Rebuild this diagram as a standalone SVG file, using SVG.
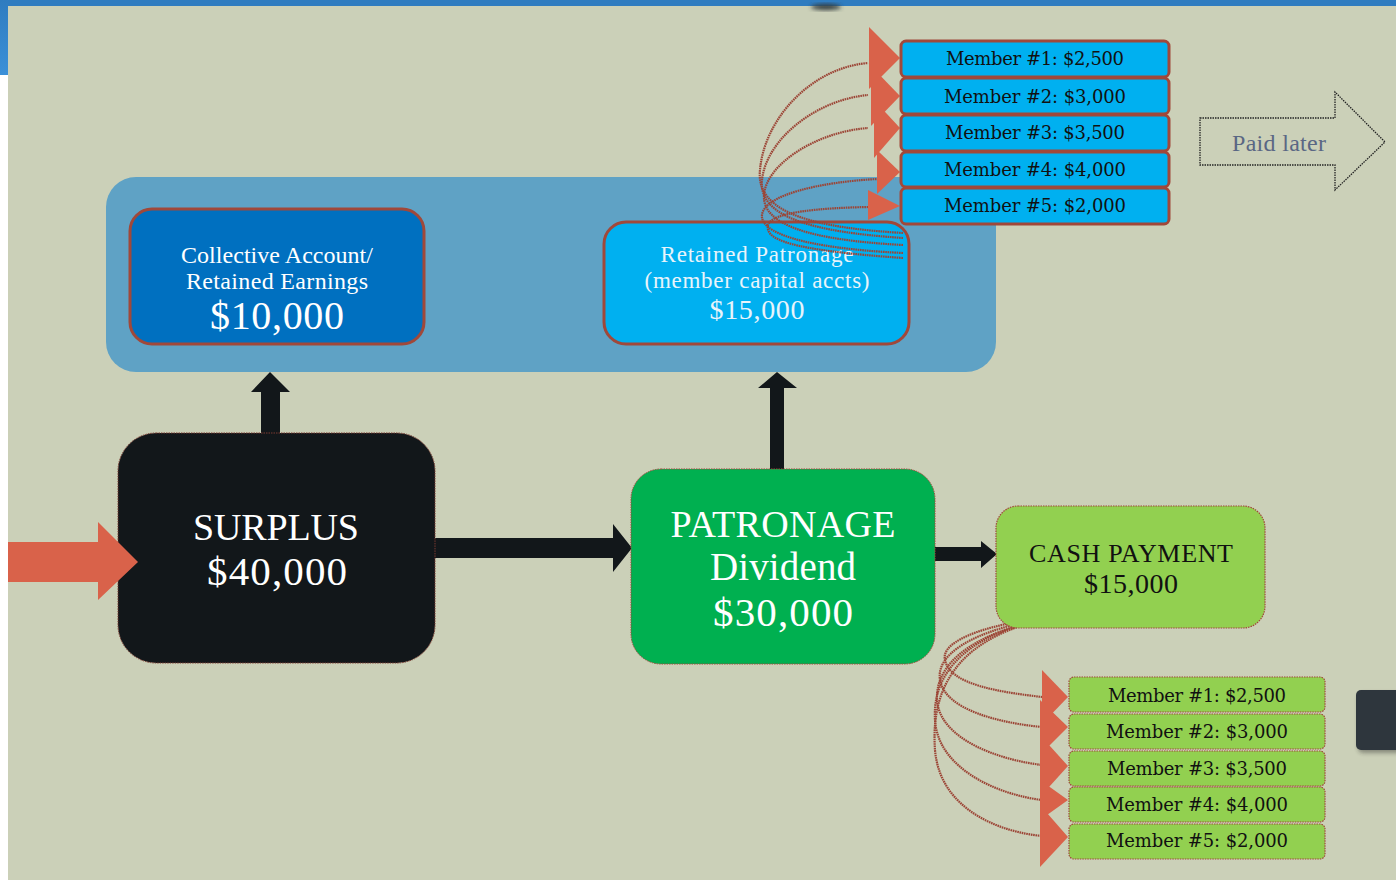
<svg xmlns="http://www.w3.org/2000/svg" width="1396" height="880" viewBox="0 0 1396 880">
<defs>
<style>
.serif{font-family:"Liberation Serif","DejaVu Serif",serif;text-anchor:middle}
.dj{font-family:"DejaVu Serif","Liberation Serif",serif;text-anchor:middle}
.w{fill:#ffffff}
.k{fill:#111111}
.mtop{fill:#00b0f0;stroke:#a0483a;stroke-width:3}
.mbot{fill:#92d050;stroke:#a0483a;stroke-width:1.2;stroke-dasharray:1.5 1}
.curve{fill:none;stroke:#9c4536;stroke-width:2.2;stroke-dasharray:1.6 0.7}
.tri{fill:#d9624a}
.blk{fill:#12171a}
.mt{font-size:18px}
</style>
<linearGradient id="lg" x1="0" y1="0" x2="0" y2="1">
<stop offset="0" stop-color="#2f7cc0"/>
<stop offset="1" stop-color="#3b90d8"/>
</linearGradient>
<filter id="sh" x="-20%" y="-20%" width="150%" height="150%">
<feGaussianBlur stdDeviation="2"/>
</filter>
</defs>
<rect x="0" y="0" width="1396" height="880" fill="#ffffff"/>
<rect x="8" y="6" width="1388" height="874" fill="#cbd0b8"/>
<rect x="0" y="0" width="1396" height="6" fill="#2f7cc0"/>
<rect x="0" y="0" width="8" height="75" fill="url(#lg)"/>
<ellipse cx="826" cy="7" rx="15" ry="3" fill="#333a3e" filter="url(#sh)"/>

<g id="container">
<rect x="106" y="177" width="890" height="195" rx="30" fill="#5fa2c5"/>
</g>

<g id="collective">
<rect x="130" y="209" width="294" height="135" rx="22" fill="#0070c0" stroke="#a0483a" stroke-width="3"/>
<text class="serif w" x="277" y="263" font-size="24" textLength="192">Collective Account/</text>
<text class="serif w" x="277" y="289" font-size="24" textLength="182">Retained Earnings</text>
<text class="serif w" x="277" y="329" font-size="40" textLength="134">$10,000</text>
</g>

<g id="retained">
<rect x="604" y="222" width="305" height="122" rx="22" fill="#00b0f0" stroke="#a0483a" stroke-width="3"/>
<text class="serif" fill="#e8f4fb" x="757" y="262" font-size="23" textLength="193">Retained Patronage</text>
<text class="serif" fill="#e8f4fb" x="757" y="288" font-size="23" textLength="225">(member capital accts)</text>
<text class="serif" fill="#e8f4fb" x="757" y="319" font-size="28" textLength="95">$15,000</text>
</g>

<g id="connectors">
<polygon class="blk" points="261,433 261,392 251,392 270,372 290,392 280,392 280,433"/>
<polygon class="blk" points="770,470 770,388 758,388 777,372 797,388 784,388 784,470"/>
<polygon class="blk" points="435,538 613,538 613,524 632,548 613,572 613,558 435,558"/>
<polygon class="blk" points="935,547 981,547 981,541 997,554 981,568 981,561 935,561"/>
<path class="curve" d="M 903,233 C 820,228 755,215 760,170 C 764,120 810,68 868,63"/>
<path class="curve" d="M 903,238 C 815,232 758,218 762,180 C 766,140 815,100 868,95"/>
<path class="curve" d="M 903,245 C 810,240 762,225 764,195 C 766,165 815,132 868,128"/>
<path class="curve" d="M 903,253 C 800,248 760,232 762,215 C 764,195 820,182 877,179"/>
<path class="curve" d="M 903,258 C 790,250 765,240 768,225 C 772,212 820,208 868,207"/>
<polygon class="tri" points="869,27 900,58 869,89"/>
<polygon class="tri" points="871,66 900,96 871,126"/>
<polygon class="tri" points="874,100 900,128 874,158"/>
<polygon class="tri" points="877,150 900,172 877,194"/>
<polygon class="tri" points="868,190 900,206 868,220"/>
<path class="curve" d="M 1068,615 C 990,622 940,640 945,660 C 950,685 1000,692 1042,697"/>
<path class="curve" d="M 1068,615 C 985,625 935,650 940,680 C 945,710 1000,723 1042,727"/>
<path class="curve" d="M 1068,615 C 980,628 935,660 937,700 C 940,740 1000,760 1042,765"/>
<path class="curve" d="M 1055,617 C 970,632 932,670 935,720 C 938,770 1000,795 1042,800"/>
<path class="curve" d="M 1050,618 C 965,636 930,680 935,750 C 940,810 1000,832 1042,836"/>
<polygon class="tri" points="1042,670 1068,697 1042,724"/>
<polygon class="tri" points="1040,700 1068,727 1040,755"/>
<polygon class="tri" points="1040,735 1068,766 1040,797"/>
<polygon class="tri" points="1040,780 1068,800 1040,820"/>
<polygon class="tri" points="1040,805 1068,837 1040,867"/>
</g>

<g id="surplus">
<rect x="118" y="433" width="317" height="230" rx="38" fill="#12171a" stroke="#7a3a30" stroke-width="1" stroke-dasharray="1.5 1"/>
<text class="serif w" x="276" y="540" font-size="38" textLength="166">SURPLUS</text>
<text class="serif w" x="277" y="585" font-size="41" textLength="140">$40,000</text>
</g>

<g id="input-arrow">
<polygon class="tri" points="8,542 98,542 98,522 138,562 98,600 98,582 8,582"/>
</g>

<g id="patronage">
<rect x="631" y="469" width="304" height="195" rx="30" fill="#00b050" stroke="#a0483a" stroke-width="1" stroke-dasharray="1.5 1"/>
<text class="serif w" x="783" y="537" font-size="38" textLength="225">PATRONAGE</text>
<text class="serif w" x="783" y="580" font-size="39" textLength="146">Dividend</text>
<text class="serif w" x="783" y="626" font-size="41" textLength="140">$30,000</text>
</g>

<g id="cash">
<rect x="996" y="506" width="269" height="122" rx="22" fill="#92d050" stroke="#a0483a" stroke-width="1.2" stroke-dasharray="1.5 1"/>
<text class="serif k" x="1131" y="562" font-size="26" textLength="204">CASH PAYMENT</text>
<text class="serif k" x="1131" y="593" font-size="28" textLength="94">$15,000</text>
</g>

<g id="top-members">
<rect class="mtop" x="901" y="41" width="268" height="36" rx="5"/>
<text class="dj k mt" x="1035" y="65" textLength="178">Member #1: $2,500</text>
<rect class="mtop" x="901" y="78" width="268" height="36" rx="5"/>
<text class="dj k mt" x="1035" y="103" textLength="182">Member #2: $3,000</text>
<rect class="mtop" x="901" y="115" width="268" height="36" rx="5"/>
<text class="dj k mt" x="1035" y="139" textLength="180">Member #3: $3,500</text>
<rect class="mtop" x="901" y="152" width="268" height="35" rx="5"/>
<text class="dj k mt" x="1035" y="176" textLength="182">Member #4: $4,000</text>
<rect class="mtop" x="901" y="188" width="268" height="36" rx="5"/>
<text class="dj k mt" x="1035" y="212" textLength="182">Member #5: $2,000</text>
</g>

<g id="paid-later">
<path d="M 1200,118 L 1335,118 L 1335,92 L 1385,142 L 1335,190 L 1335,165 L 1200,165 Z" fill="none" stroke="#222222" stroke-width="1.3" stroke-dasharray="1.5 1"/>
<text class="serif" fill="#5a6784" x="1279" y="151" font-size="24" textLength="94">Paid later</text>
</g>

<g id="bottom-members">
<rect class="mbot" x="1069" y="677" width="256" height="35" rx="5"/>
<text class="dj k mt" x="1197" y="702" textLength="178">Member #1: $2,500</text>
<rect class="mbot" x="1069" y="714" width="256" height="35" rx="5"/>
<text class="dj k mt" x="1197" y="738" textLength="182">Member #2: $3,000</text>
<rect class="mbot" x="1069" y="751" width="256" height="35" rx="5"/>
<text class="dj k mt" x="1197" y="775" textLength="180">Member #3: $3,500</text>
<rect class="mbot" x="1069" y="787" width="256" height="35" rx="5"/>
<text class="dj k mt" x="1197" y="811" textLength="182">Member #4: $4,000</text>
<rect class="mbot" x="1069" y="824" width="256" height="35" rx="5"/>
<text class="dj k mt" x="1197" y="847" textLength="182">Member #5: $2,000</text>
</g>

<g id="side-panel">
<rect x="1358" y="693" width="45" height="60" rx="5" fill="#222" opacity="0.4" filter="url(#sh)"/>
<rect x="1356" y="690" width="45" height="60" rx="5" fill="#2e363d"/>
</g>
</svg>
